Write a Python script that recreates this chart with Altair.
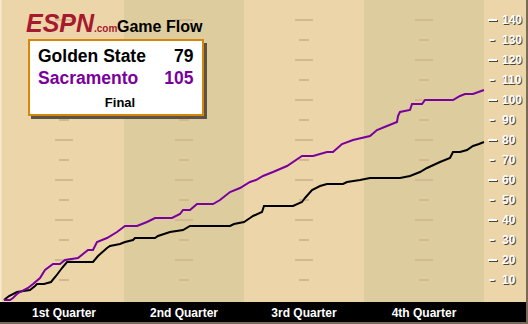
import altair as alt
import pandas as pd

# ---------------- data ----------------
quarter_names = ["1st Quarter", "2nd Quarter", "3rd Quarter", "4th Quarter"]
quarter_start = [0, 12, 24, 36]
quarter_end = [12, 24, 36, 48]
quarter_mid = [6, 18, 30, 42]
quarter_shade = ["light", "dark", "light", "dark"]
axis_levels = [10, 20, 30, 40, 50, 60, 70, 80, 90, 100, 110, 120, 130, 140]

# Golden State (black)
gs_min = [0, 0.5, 1.3, 2.6, 3.1, 3.3, 4.0, 4.7, 5.2, 5.8, 6.3, 8.9, 9.4, 10.3, 10.6,
          11.6, 12.1, 12.9, 13.1, 15.1, 15.4, 16.6, 17.9, 18.6, 22.6, 23.0, 24.0,
          24.6, 24.9, 25.8, 26.0, 28.9, 29.8, 30.1, 30.8, 31.6, 32.3, 33.9, 34.3,
          35.6, 36.6, 39.6, 40.6, 41.6, 42.3, 43.6, 44.6, 44.9, 45.6, 46.3, 46.9,
          47.5, 48]
gs_pts = [0, 2, 4, 5, 7, 8, 8, 9, 12, 16, 19, 19, 22, 26, 27,
          28, 29, 30, 31, 31, 32, 34, 35, 37, 37, 38, 39,
          41, 42, 44, 47, 47, 49, 51, 55, 57, 58, 58, 59,
          60, 61, 61, 62, 64, 66, 69, 71, 74, 74, 75, 77,
          78, 79]

# Sacramento (purple)
sac_min = [0, 0.6, 0.9, 1.3, 1.6, 2.4, 2.9, 3.6, 4.1, 4.9, 5.6, 6.1, 7.4, 8.4, 8.9,
           9.3, 10.3, 11.3, 12.1, 13.3, 14.3, 15.1, 16.8, 17.6, 17.9, 18.6, 19.3,
           20.9, 21.6, 22.6, 23.6, 24.6, 25.2, 25.9, 26.9, 28.3, 29.8, 30.9, 32.3,
           32.9, 33.8, 34.9, 36.6, 37.3, 38.3, 39.3, 39.4, 39.6, 40.6, 40.8, 41.8,
           42.1, 44.9, 45.6, 46.1, 46.9, 48]
sac_pts = [0, 0, 1, 3, 4, 6, 8, 11, 15, 18, 18, 20, 21, 25, 25,
           29, 31, 34, 37, 37, 39, 41, 41, 43, 45, 45, 48,
           48, 50, 54, 56, 59, 60, 62, 64, 67, 72, 72, 74,
           74, 78, 80, 82, 85, 87, 89, 92, 94, 95, 98, 98,
           100, 100, 102, 103, 103, 105]

team_names = ["Golden State", "Sacramento"]
final_scores = [79, 105]
game_status = "Final"

# ---------------- styles ----------------
LIGHT = "#EDD5AA"
DARK = "#DDCC9E"
GRID = "#D2B992"
PURPLE = "#7A009E"
ESPN_RED = "#A6192E"
SHADOW = "#4E4638"
BORDER = "#786A55"
FONT = "Liberation Sans"

W, H = 528, 324
xs = alt.Scale(domain=[-0.4, 52.4], range=[0, W], nice=False, zero=False)
ys = alt.Scale(domain=[-12, 150], range=[H, 0], nice=False, zero=False)
one = alt.Data(values=[{}])

quarters = pd.DataFrame({"name": quarter_names, "start": quarter_start,
                         "end": quarter_end, "mid": quarter_mid,
                         "shade": quarter_shade})
levels = pd.DataFrame({"level": axis_levels})
levels["major"] = levels["level"] % 20 == 0
grid = pd.DataFrame([{"mid": m, "level": l, "major": l % 20 == 0}
                     for m in quarter_mid for l in axis_levels])
gs = pd.DataFrame({"t": gs_min, "pts": gs_pts})
sac = pd.DataFrame({"t": sac_min, "pts": sac_pts})

# quarter bands
bands = alt.Chart(quarters).mark_rect().encode(
    x=alt.X("start:Q", scale=xs, axis=None),
    x2="end:Q",
    y=alt.value(0), y2=alt.value(302),
    color=alt.Color("shade:N", scale=alt.Scale(domain=["light", "dark"], range=[LIGHT, DARK]), legend=None),
)

left_strip = alt.Chart(one).mark_rect(color="#F7EAD0").encode(
    x=alt.value(0), x2=alt.value(1.5), y=alt.value(0), y2=alt.value(302))

# dashes in each quarter
dash_major = alt.Chart(grid).transform_filter("datum.major").mark_tick(
    orient="horizontal", size=18, thickness=2, color=GRID, opacity=1).encode(
    x=alt.X("mid:Q", scale=xs, axis=None), y=alt.Y("level:Q", scale=ys, axis=None))
dash_minor = alt.Chart(grid).transform_filter("!datum.major").mark_tick(
    orient="horizontal", size=10, thickness=2, color=GRID, opacity=1).encode(
    x=alt.X("mid:Q", scale=xs, axis=None), y=alt.Y("level:Q", scale=ys, axis=None))

# bottom black band and border
black_band = alt.Chart(one).mark_rect(color="#000000").encode(
    x=alt.value(0), x2=alt.value(526), y=alt.value(302), y2=alt.value(322))
border_r = alt.Chart(one).mark_rect(color=BORDER).encode(
    x=alt.value(526), x2=alt.value(528), y=alt.value(0), y2=alt.value(324))
border_b = alt.Chart(one).mark_rect(color=BORDER).encode(
    x=alt.value(0), x2=alt.value(528), y=alt.value(322), y2=alt.value(324))

q_labels = alt.Chart(quarters).mark_text(
    color="white", font=FONT, fontSize=12, fontWeight="bold", baseline="middle", align="center").encode(
    x=alt.X("mid:Q", scale=xs, axis=None), y=alt.value(312.5), text="name:N")

# right axis
def axis_tick(major, color, off):
    return alt.Chart(levels).transform_filter("datum.major" if major else "!datum.major").mark_tick(
        orient="horizontal", size=9 if major else 5, thickness=2, color=color, opacity=1,
        xOffset=off, yOffset=off).encode(
        x=alt.value(492.5 if major else 492), y=alt.Y("level:Q", scale=ys, axis=None))

def axis_text(color, off):
    return alt.Chart(levels).mark_text(
        align="left", baseline="middle", font=FONT, fontSize=12, fontWeight="bold",
        color=color, dx=off, dy=off).encode(
        x=alt.value(502), y=alt.Y("level:Q", scale=ys, axis=None), text="level:Q")

axis_layers = [axis_tick(True, SHADOW, 1), axis_tick(False, SHADOW, 1),
               axis_text(SHADOW, 1),
               axis_tick(True, "white", 0), axis_tick(False, "white", 0),
               axis_text("white", 0)]

# lines
gs_line = alt.Chart(gs).mark_line(color="#000000", strokeWidth=2).encode(
    x=alt.X("t:Q", scale=xs, axis=None), y=alt.Y("pts:Q", scale=ys, axis=None))
sac_line = alt.Chart(sac).mark_line(color=PURPLE, strokeWidth=2).encode(
    x=alt.X("t:Q", scale=xs, axis=None), y=alt.Y("pts:Q", scale=ys, axis=None))

# score box
box_shadow = alt.Chart(one).mark_rect(color="#5B5346").encode(
    x=alt.value(31), x2=alt.value(207), y=alt.value(43), y2=alt.value(119))
box = alt.Chart(one).mark_rect(fill="white", stroke="#D4870B", strokeWidth=2).encode(
    x=alt.value(29), x2=alt.value(203), y=alt.value(40), y2=alt.value(115))

score_layers = []
team_colors = ["#000000", PURPLE]
team_base = [62, 83.5]
for i in range(2):
    d = alt.Data(values=[{"team": team_names[i], "score": final_scores[i]}])
    score_layers.append(alt.Chart(d).mark_text(
        align="left", baseline="alphabetic", font=FONT, fontSize=17.5, fontWeight="bold",
        color=team_colors[i]).encode(x=alt.value(38), y=alt.value(team_base[i]), text="team:N"))
    score_layers.append(alt.Chart(d).mark_text(
        align="right", baseline="alphabetic", font=FONT, fontSize=17.5, fontWeight="bold",
        color=team_colors[i]).encode(x=alt.value(193.5), y=alt.value(team_base[i]), text="score:Q"))
score_layers.append(alt.Chart(alt.Data(values=[{"s": game_status}])).mark_text(
    align="center", baseline="alphabetic", font=FONT, fontSize=13, fontWeight="bold",
    color="#000000").encode(x=alt.value(120), y=alt.value(106.5), text="s:N"))

# logo
logo = [
    alt.Chart(alt.Data(values=[{"s": "ESPN"}])).mark_text(
        align="left", baseline="alphabetic", font=FONT, fontSize=25, fontWeight="bold",
        fontStyle="italic", color=ESPN_RED).encode(x=alt.value(26), y=alt.value(32), text="s:N"),
    alt.Chart(alt.Data(values=[{"s": ".com"}])).mark_text(
        align="left", baseline="alphabetic", font=FONT, fontSize=10, fontWeight="bold",
        color=ESPN_RED).encode(x=alt.value(94), y=alt.value(32), text="s:N"),
    alt.Chart(alt.Data(values=[{"s": "Game Flow"}])).mark_text(
        align="left", baseline="alphabetic", font=FONT, fontSize=16, fontWeight="bold",
        color="#000000").encode(x=alt.value(117), y=alt.value(32), text="s:N"),
]

chart = alt.layer(
    bands, left_strip, dash_major, dash_minor, black_band, border_r, border_b, q_labels,
    *axis_layers, gs_line, sac_line, box_shadow, box, *score_layers, *logo
).properties(
    width=W, height=H, background=LIGHT, padding=0,
    autosize=alt.AutoSizeParams(type="none")
).configure_view(stroke=None)

chart.save("out.html", embed_options={"renderer": "svg", "actions": False})
